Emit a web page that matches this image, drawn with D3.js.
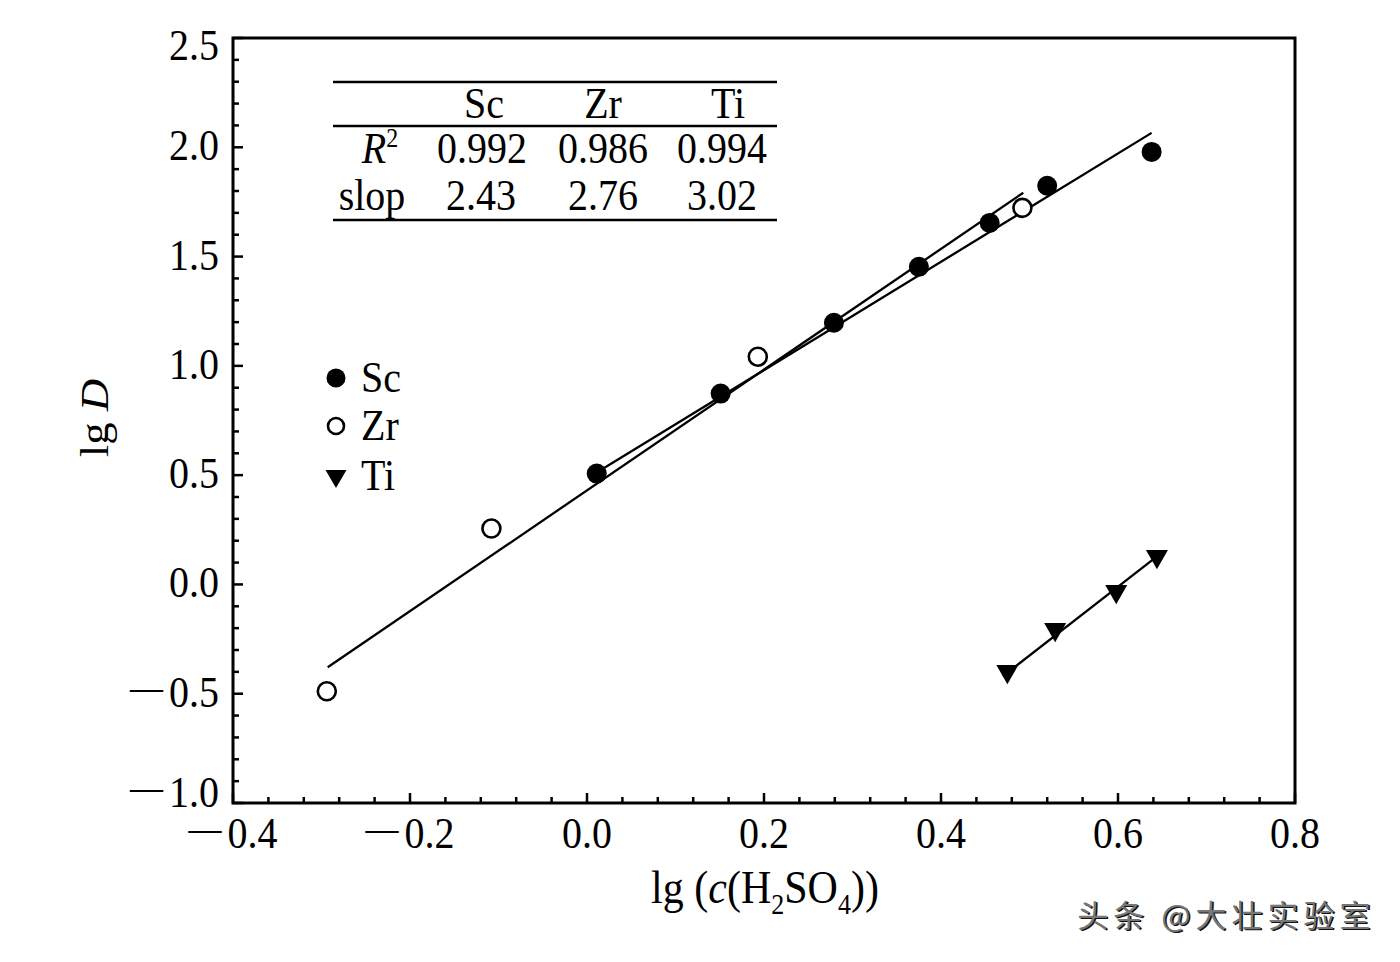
<!DOCTYPE html>
<html><head><meta charset="utf-8">
<script src="https://cdn.jsdelivr.net/npm/d3@7"></script>
<style>html,body{margin:0;padding:0;background:#fff;}svg{display:block;}</style>
</head><body>
<svg id="chart" width="1400" height="962"></svg>
<script>
// ---- data ----
const scX = [0.011, 0.151, 0.279, 0.375, 0.455, 0.520, 0.638];
const scY = [0.507, 0.873, 1.197, 1.453, 1.654, 1.824, 1.979];
const zrX = [-0.294, -0.108, 0.193, 0.492];
const zrY = [-0.489, 0.256, 1.042, 1.723];
const tiX = [0.475, 0.529, 0.598, 0.644];
const tiY = [-0.398, -0.206, -0.032, 0.128];
// fitted line end points [x0, y0, x1, y1]
const fitSc = [0.011, 0.512, 0.638, 2.066];
const fitZr = [-0.293, -0.379, 0.493, 1.792];
const fitTi = [0.470, -0.420, 0.651, 0.150];
const xTicks = [-0.4, -0.2, 0.0, 0.2, 0.4, 0.6, 0.8];
const yTicks = [-1.0, -0.5, 0.0, 0.5, 1.0, 1.5, 2.0, 2.5];
const tableCols = ["Sc", "Zr", "Ti"];
const tableR2 = ["0.992", "0.986", "0.994"];
const tableSlope = ["2.43", "2.76", "3.02"];
const legendNames = ["Sc", "Zr", "Ti"];

const svg = d3.select("#chart");
const FONT = "'Liberation Serif','Times New Roman',serif";
const SY = 1.12; // vertical stretch of glyphs in the reference
const L = 233, R = 1295, T = 38, B = 803;
const x = d3.scaleLinear().domain([-0.4, 0.8]).range([L, R]);
const y = d3.scaleLinear().domain([-1.0, 2.5]).range([B, T]);

function txt(parent, px, py, size, anchor) {
  return parent.append("text")
    .attr("transform", `translate(${px},${py}) scale(1,${SY})`)
    .attr("text-anchor", anchor || "middle")
    .attr("font-family", FONT).attr("font-size", size || 40);
}
function numLabel(t, v) {
  if (v < 0) {
    t.append("tspan").attr("font-size", 33).attr("dy", -6).text("\u2014");
    t.append("tspan").attr("dx", 6).attr("dy", 6).text(Math.abs(v).toFixed(1));
  } else {
    t.text(v.toFixed(1));
  }
}

// minor/major ticks (inward)
const g = svg.append("g");
const xMinor = d3.range(0, 31).map(i => -0.4 + i * 0.04);
g.selectAll(".xm").data(xMinor).join("line")
  .attr("x1", d => x(d)).attr("x2", d => x(d))
  .attr("y1", B).attr("y2", d => B - (Math.abs(Math.round(d * 100) % 20) === 0 ? 10 : 6))
  .attr("stroke", "#000").attr("stroke-width", 2.5);
const yMinor = d3.range(0, 36).map(i => -1.0 + i * 0.1);
g.selectAll(".ym").data(yMinor).join("line")
  .attr("y1", d => y(d)).attr("y2", d => y(d))
  .attr("x1", L).attr("x2", d => L + (Math.abs(Math.round(d * 10) % 5) === 0 ? 10 : 6))
  .attr("stroke", "#000").attr("stroke-width", 2.5);

// frame
svg.append("rect").attr("x", L).attr("y", T).attr("width", R - L).attr("height", B - T)
  .attr("fill", "none").attr("stroke", "#000").attr("stroke-width", 3);

// tick labels
xTicks.forEach(v => numLabel(txt(svg, x(v), 848, 40, "middle"), v));
yTicks.forEach((v, i) => {
  const off = i === 0 ? -9 : (i === yTicks.length - 1 ? 9 : 0);
  numLabel(txt(svg, 219, y(v) + off + 13, 40, "end"), v);
});

// axis titles
const xt = txt(svg, 765, 903, 42, "middle");
xt.append("tspan").text("lg (");
xt.append("tspan").attr("font-style", "italic").text("c");
xt.append("tspan").text("(H");
xt.append("tspan").attr("font-size", 26).attr("dy", 10).text("2");
xt.append("tspan").attr("dy", -10).text("SO");
xt.append("tspan").attr("font-size", 26).attr("dy", 10).text("4");
xt.append("tspan").attr("dy", -10).text("))");

const yt = svg.append("text").attr("transform", `translate(108,418) rotate(-90) scale(${SY},1)`)
  .attr("text-anchor", "middle").attr("font-family", FONT).attr("font-size", 40);
yt.append("tspan").text("lg ");
yt.append("tspan").attr("font-style", "italic").text("D");

// fit lines
const lines = [fitSc, fitZr, fitTi];
svg.selectAll(".fit").data(lines).join("line")
  .attr("x1", d => x(d[0])).attr("y1", d => y(d[1]))
  .attr("x2", d => x(d[2])).attr("y2", d => y(d[3]))
  .attr("stroke", "#000").attr("stroke-width", 2.3);

// markers
const tri = d3.symbol().type(d3.symbolTriangle).size(210);
const scData = scX.map((v, i) => [v, scY[i]]);
const zrData = zrX.map((v, i) => [v, zrY[i]]);
const tiData = tiX.map((v, i) => [v, tiY[i]]);
svg.selectAll(".sc").data(scData).join("circle")
  .attr("cx", d => x(d[0])).attr("cy", d => y(d[1])).attr("r", 10).attr("fill", "#000");
svg.selectAll(".zr").data(zrData).join("circle")
  .attr("cx", d => x(d[0])).attr("cy", d => y(d[1])).attr("r", 9)
  .attr("fill", "#fff").attr("stroke", "#000").attr("stroke-width", 2.6);
svg.selectAll(".ti").data(tiData).join("path")
  .attr("d", tri).attr("transform", d => `translate(${x(d[0])},${y(d[1])}) rotate(180)`)
  .attr("fill", "#000");

// legend
const lg = svg.append("g");
const legY = [378, 426, 476];
legendNames.forEach((n, i) => {
  if (i === 0) lg.append("circle").attr("cx", 336).attr("cy", legY[i]).attr("r", 9.5).attr("fill", "#000");
  if (i === 1) lg.append("circle").attr("cx", 336).attr("cy", legY[i]).attr("r", 8).attr("fill", "#fff").attr("stroke", "#000").attr("stroke-width", 2.6);
  if (i === 2) lg.append("path").attr("d", d3.symbol().type(d3.symbolTriangle).size(190)).attr("transform", `translate(336,${legY[i]}) rotate(180)`).attr("fill", "#000");
  txt(lg, 361, legY[i] + 14, 40, "start").text(n);
});

// table
const tb = svg.append("g");
[82, 126, 220].forEach(yy => tb.append("line").attr("x1", 333).attr("x2", 777).attr("y1", yy).attr("y2", yy)
  .attr("stroke", "#000").attr("stroke-width", 2.5));
const colX = [484, 603, 728];
tableCols.forEach((c, i) => txt(tb, colX[i], 118).text(c));
const r2 = txt(tb, 380, 163);
r2.append("tspan").attr("font-style", "italic").text("R");
r2.append("tspan").attr("font-size", 24).attr("dy", -14).text("2");
txt(tb, 372, 210).text("slop");
tableR2.forEach((v, i) => txt(tb, [482, 603, 722][i], 163).text(v));
tableSlope.forEach((v, i) => txt(tb, [481, 603, 722][i], 210).text(v));

// watermark
const wm = svg.append("g").attr("font-family", "'Noto Sans CJK SC',sans-serif").attr("font-size", 31)
  .attr("text-anchor", "end").attr("letter-spacing", 5);
wm.append("text").attr("x", 1377).attr("y", 928).attr("fill", "#111").text("头条 @大壮实验室");
wm.append("text").attr("x", 1375.5).attr("y", 926.5).attr("fill", "#777").text("头条 @大壮实验室");
</script>
</body></html>
